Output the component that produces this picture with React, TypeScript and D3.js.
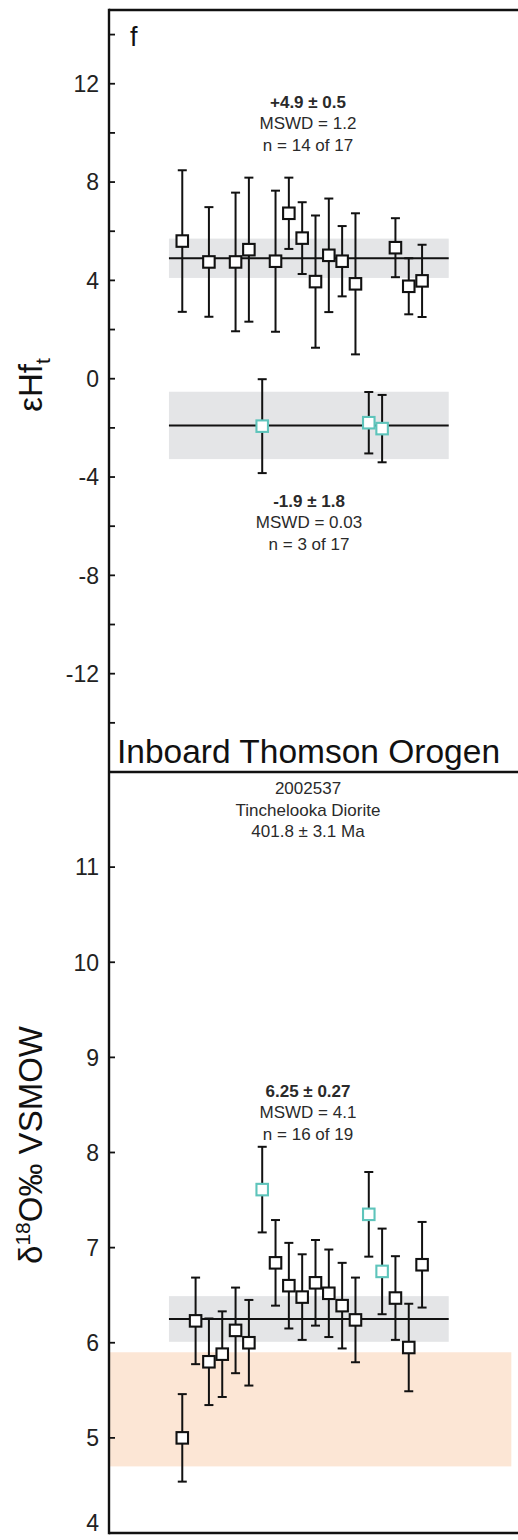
import React from "react";
import * as d3 from "d3";

// ---- Hf isotope panel (epsilon Hf at time t) ----
const hfSpot = [1, 3, 5, 6, 8, 9, 10, 11, 12, 13, 14, 17, 18, 19];
const hfValue = [5.6, 4.75, 4.75, 5.25, 4.78, 6.73, 5.72, 3.95, 5.02, 4.78, 3.86, 5.33, 3.76, 3.98];
const hfErr = [2.88, 2.23, 2.82, 2.93, 2.87, 1.45, 1.46, 2.69, 2.31, 1.43, 2.87, 1.2, 1.14, 1.47];

const hfLowSpot = [7, 15, 16];
const hfLowValue = [-1.93, -1.79, -2.03];
const hfLowErr = [1.91, 1.25, 1.37];

const hfMainMean = 4.9;
const hfMainBand = 0.8;
const hfLowMean = -1.9;
const hfLowBand = 1.37;

const hfMainLabel = ["+4.9 ± 0.5", "MSWD = 1.2", "n = 14 of 17"];
const hfLowLabel = ["-1.9 ± 1.8", "MSWD = 0.03", "n = 3 of 17"];

const hfMajorTicks = [-12, -8, -4, 0, 4, 8, 12];
const hfMinorTicks = [-14, -10, -6, -2, 2, 6, 10, 14];

// ---- O isotope panel (delta 18O VSMOW) ----
const oSpot = [1, 2, 3, 4, 5, 6, 7, 8, 9, 10, 11, 12, 13, 14, 15, 16, 17, 18, 19];
const oValue = [5.0, 6.23, 5.8, 5.88, 6.13, 6.0, 7.61, 6.84, 6.6, 6.48, 6.63, 6.52, 6.39, 6.24, 7.35, 6.75, 6.47, 5.95, 6.82];
const oErr = [0.46, 0.455, 0.455, 0.45, 0.45, 0.45, 0.45, 0.45, 0.45, 0.45, 0.45, 0.46, 0.45, 0.445, 0.445, 0.45, 0.44, 0.46, 0.45];
const oRejected = [7, 15, 16];

const oMean = 6.25;
const oBand = 0.24;
const oLabel = ["6.25 ± 0.27", "MSWD = 4.1", "n = 16 of 19"];
const mantleRange = [4.7, 5.9];
const oTicks = [4, 5, 6, 7, 8, 9, 10, 11];

const sampleLabel = ["2002537", "Tinchelooka Diorite", "401.8 ± 3.1 Ma"];
const regionTitle = "Inboard Thomson Orogen";

const FONT = "'Liberation Sans', Arial, Helvetica, sans-serif";
const CYAN = "#5ec4bb";
const GREY_BAND = "#e4e5e7";
const PEACH = "#fce6d5";
const INK = "#111";

const W = 518;
const H = 1540;
const AX = 109;
const TOP = 10;
const MID = 772;
const BOT = 1533;

const x = d3.scaleLinear().domain([-4.5, 26.2]).range([AX, W]);
const yHf = d3.scaleLinear().domain([-16, 15]).range([MID, TOP]);
const yO = d3.scaleLinear().domain([4, 12]).range([BOT, MID]);

type Pt = { spot: number; v: number; e: number; c: string };

function ErrorBars({ pts, y }: { pts: Pt[]; y: d3.ScaleLinear<number, number> }) {
  return (
    <g stroke={INK} strokeWidth={2} fill="none">
      {pts.map((p, i) => {
        const cx = x(p.spot);
        const y1 = y(p.v + p.e);
        const y2 = y(p.v - p.e);
        return (
          <g key={i}>
            <line x1={cx} x2={cx} y1={y1} y2={y2} />
            <line x1={cx - 4.5} x2={cx + 4.5} y1={y1} y2={y1} />
            <line x1={cx - 4.5} x2={cx + 4.5} y1={y2} y2={y2} />
          </g>
        );
      })}
    </g>
  );
}

function Squares({ pts, y }: { pts: Pt[]; y: d3.ScaleLinear<number, number> }) {
  const s = 11.5;
  return (
    <g>
      {pts.map((p, i) => (
        <rect
          key={i}
          x={x(p.spot) - s / 2}
          y={y(p.v) - s / 2}
          width={s}
          height={s}
          fill="#fff"
          stroke={p.c}
          strokeWidth={2.1}
        />
      ))}
    </g>
  );
}

function StatBlock({
  lines,
  cx,
  y0,
  boldFirst = true,
}: {
  lines: string[];
  cx: number;
  y0: number;
  boldFirst?: boolean;
}) {
  return (
    <g fontFamily={FONT} fontSize={17} textAnchor="middle" fill="#2a2a2a">
      {lines.map((t, i) => (
        <text key={i} x={cx} y={y0 + i * 21.5} fontWeight={boldFirst && i === 0 ? "bold" : "normal"}>
          {t}
        </text>
      ))}
    </g>
  );
}

export default function App() {
  const hfMain: Pt[] = hfSpot.map((s, i) => ({ spot: s, v: hfValue[i], e: hfErr[i], c: INK }));
  const hfLow: Pt[] = hfLowSpot.map((s, i) => ({ spot: s, v: hfLowValue[i], e: hfLowErr[i], c: CYAN }));
  const oPts: Pt[] = oSpot.map((s, i) => ({
    spot: s,
    v: oValue[i],
    e: oErr[i],
    c: oRejected.includes(s) ? CYAN : INK,
  }));

  const bandX0 = x(0);
  const bandX1 = x(21);

  return (
    <svg
      width={W}
      height={H}
      style={{ position: "absolute", left: 0, top: 0, display: "block", background: "#fff" }}
    >
      {/* ---------- Hf panel ---------- */}
      <rect x={bandX0} y={yHf(hfMainMean + hfMainBand)} width={bandX1 - bandX0}
        height={yHf(hfMainMean - hfMainBand) - yHf(hfMainMean + hfMainBand)} fill={GREY_BAND} />
      <rect x={bandX0} y={yHf(hfLowMean + hfLowBand)} width={bandX1 - bandX0}
        height={yHf(hfLowMean - hfLowBand) - yHf(hfLowMean + hfLowBand)} fill={GREY_BAND} />
      <line x1={bandX0} x2={bandX1} y1={yHf(hfMainMean)} y2={yHf(hfMainMean)} stroke={INK} strokeWidth={2} />
      <line x1={bandX0} x2={bandX1} y1={yHf(hfLowMean)} y2={yHf(hfLowMean)} stroke={INK} strokeWidth={2} />
      <ErrorBars pts={[...hfMain, ...hfLow]} y={yHf} />
      <Squares pts={[...hfMain, ...hfLow]} y={yHf} />

      <StatBlock lines={hfMainLabel} cx={308} y0={107.5} />
      <StatBlock lines={hfLowLabel} cx={309} y0={506.5} />

      <text x={130} y={46} fontFamily={FONT} fontSize={27} fill={INK}>f</text>

      {/* Hf axis ticks */}
      <g stroke={INK} strokeWidth={1.8}>
        {[...hfMajorTicks, ...hfMinorTicks].map((t) => (
          <line key={t} x1={AX} x2={AX + 6} y1={yHf(t)} y2={yHf(t)} />
        ))}
      </g>
      <g fontFamily={FONT} fontSize={23} textAnchor="end" fill="#222">
        {hfMajorTicks.map((t) => (
          <text key={t} x={99} y={yHf(t)} dy="0.36em">{String(t)}</text>
        ))}
      </g>
      <text
        transform={`translate(42, 385) rotate(-90)`}
        fontFamily={FONT}
        fontSize={33}
        textAnchor="middle"
        fill={INK}
      >
        εHf<tspan fontSize={21} dy={8}>t</tspan>
      </text>

      {/* ---------- O panel ---------- */}
      <rect x={AX} y={yO(mantleRange[1])} width={x(25.7) - AX}
        height={yO(mantleRange[0]) - yO(mantleRange[1])} fill={PEACH} />
      <rect x={bandX0} y={yO(oMean + oBand)} width={bandX1 - bandX0}
        height={yO(oMean - oBand) - yO(oMean + oBand)} fill={GREY_BAND} />
      <line x1={bandX0} x2={bandX1} y1={yO(oMean)} y2={yO(oMean)} stroke={INK} strokeWidth={2} />
      <ErrorBars pts={oPts} y={yO} />
      <Squares pts={oPts} y={yO} />

      <StatBlock lines={oLabel} cx={308} y0={1096.5} />
      <StatBlock lines={sampleLabel} cx={308} y0={794} boldFirst={false} />

      <g stroke={INK} strokeWidth={1.8}>
        {oTicks.map((t) => (
          <line key={t} x1={AX} x2={AX + 6} y1={yO(t)} y2={yO(t)} />
        ))}
      </g>
      <g fontFamily={FONT} fontSize={23} textAnchor="end" fill="#222">
        {oTicks.map((t) => (
          <text key={t} x={99} y={Math.min(yO(t), BOT - 10)} dy="0.36em">{String(t)}</text>
        ))}
      </g>
      <text
        transform={`translate(42, 1145) rotate(-90)`}
        fontFamily={FONT}
        fontSize={33}
        textAnchor="middle"
        fill={INK}
      >
        δ<tspan fontSize={21} dy={-12}>18</tspan><tspan dy={12}>O‰ VSMOW</tspan>
      </text>

      {/* ---------- frame ---------- */}
      <text x={117} y={763} fontFamily={FONT} fontSize={33.5} fill={INK}>{regionTitle}</text>
      <g stroke={INK} strokeWidth={2.4} fill="none">
        <line x1={AX} x2={W} y1={TOP} y2={TOP} />
        <line x1={AX} x2={W} y1={MID} y2={MID} />
        <line x1={AX} x2={W} y1={BOT} y2={BOT} />
        <line x1={AX} x2={AX} y1={TOP - 1.2} y2={BOT + 1.2} />
      </g>
    </svg>
  );
}
